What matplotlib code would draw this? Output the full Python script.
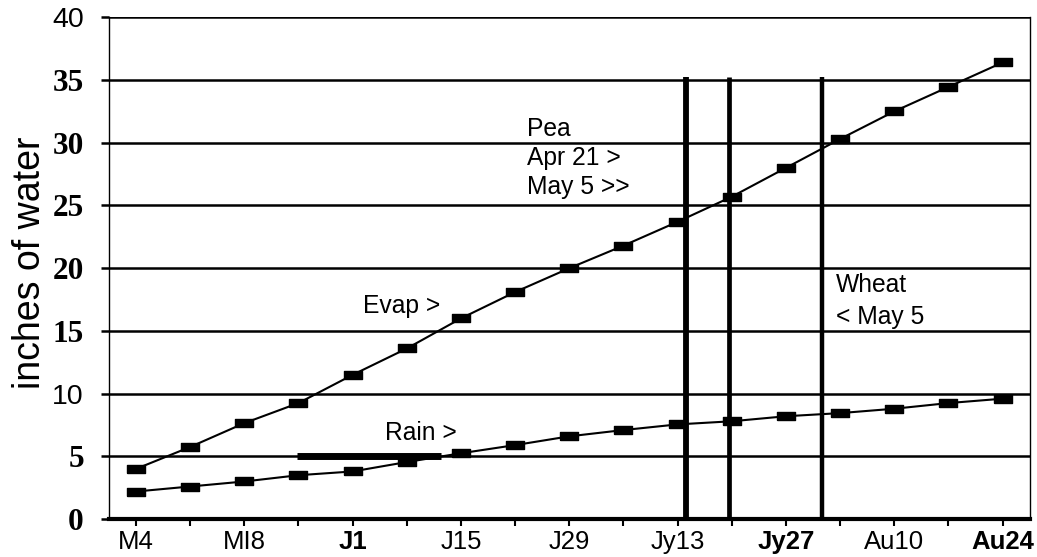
import numpy as np
import matplotlib
matplotlib.use("Agg")
from matplotlib import pyplot as plt

# weekly dates, May 4 to Aug 24
dates = ["M4", "M11", "MI8", "M25", "J1", "J8", "J15", "J22", "J29",
         "Jy6", "Jy13", "Jy20", "Jy27", "Au3", "Au10", "Au17", "Au24"]
evap = [4.0, 5.75, 7.65, 9.25, 11.5, 13.6, 16.0, 18.1, 20.0,
        21.8, 23.7, 25.7, 28.0, 30.3, 32.5, 34.45, 36.4]
rain = [2.2, 2.6, 3.0, 3.5, 3.8, 4.55, 5.25, 5.9, 6.6,
        7.1, 7.55, 7.8, 8.2, 8.45, 8.8, 9.25, 9.6]
y_ticks = [0, 5, 10, 15, 20, 25, 30, 35, 40]
# planting lines (category position) and the short bar at 5 inches
plant_lines = [10.15, 10.94, 12.66]
bar_span = [2.97, 5.63]

sans = "Liberation Sans"
serif = "Liberation Serif"

fig = plt.figure(figsize=(10.37, 5.57), dpi=100)
ax = fig.add_axes([0.105, 0.068, 0.888, 0.901])

x = np.arange(len(dates))
rect = [(-1, -0.5), (1, -0.5), (1, 0.5), (-1, 0.5), (-1, -0.5)]

# horizontal grid
for v in y_ticks[1:]:
    ax.axhline(v, color="black", lw=1.8, zorder=1)

ax.hlines(5, bar_span[0], bar_span[1], color="black", lw=5, zorder=2)
ax.vlines(plant_lines, 0, 35.2, color="black", lw=[4.2, 3.4, 3.2], zorder=3)

ax.plot(x, evap, color="black", lw=1.5, marker=rect, ms=12.5, zorder=4)
ax.plot(x, rain, color="black", lw=1.5, marker=rect, ms=12.5, zorder=4)

ax.set_xlim(-0.5, 16.5)
ax.set_ylim(0, 40)

ax.set_xticks(x)
ax.set_xticklabels([d if i % 2 == 0 else "" for i, d in enumerate(dates)])
for i, lab in enumerate(ax.get_xticklabels()):
    lab.set_fontfamily(sans)
    lab.set_fontsize(18.5)
    if dates[i] in ("J1", "Jy27", "Au24"):
        lab.set_fontweight("bold")
ax.tick_params(axis="x", length=5, width=1.5, pad=3)

ax.set_yticks(y_ticks)
ax.set_yticklabels([str(v) for v in y_ticks])
for lab in ax.get_yticklabels():
    if lab.get_text() in ("40", "10"):
        lab.set_fontfamily(sans)
        lab.set_fontsize(20.5)
    else:
        lab.set_fontfamily(serif)
        lab.set_fontweight("bold")
        lab.set_fontsize(22.5)
ax.tick_params(axis="y", length=6, width=1.8, pad=12)

ax.set_ylabel("inches of water", fontfamily=sans, fontsize=27)
ax.yaxis.set_label_coords(-0.066, 0.51)

ax.spines["top"].set_visible(False)
ax.spines["left"].set_linewidth(1.0)
ax.spines["right"].set_linewidth(1.0)
ax.spines["bottom"].set_linewidth(3.0)

# labels on the chart
txt = dict(fontfamily=sans, fontsize=17.7, va="center", ha="left")
ax.text(7.21, 31.1, "Pea", **txt)
ax.text(7.21, 28.8, "Apr 21 >", **txt)
ax.text(7.21, 26.5, "May 5 >>", **txt)
ax.text(4.19, 17.0, "Evap >", **txt)
ax.text(4.6, 6.9, "Rain >", **txt)
ax.text(12.93, 18.65, "Wheat", **txt)
ax.text(12.93, 16.1, "< May 5", **txt)

plt.savefig("out.png", dpi=100)
